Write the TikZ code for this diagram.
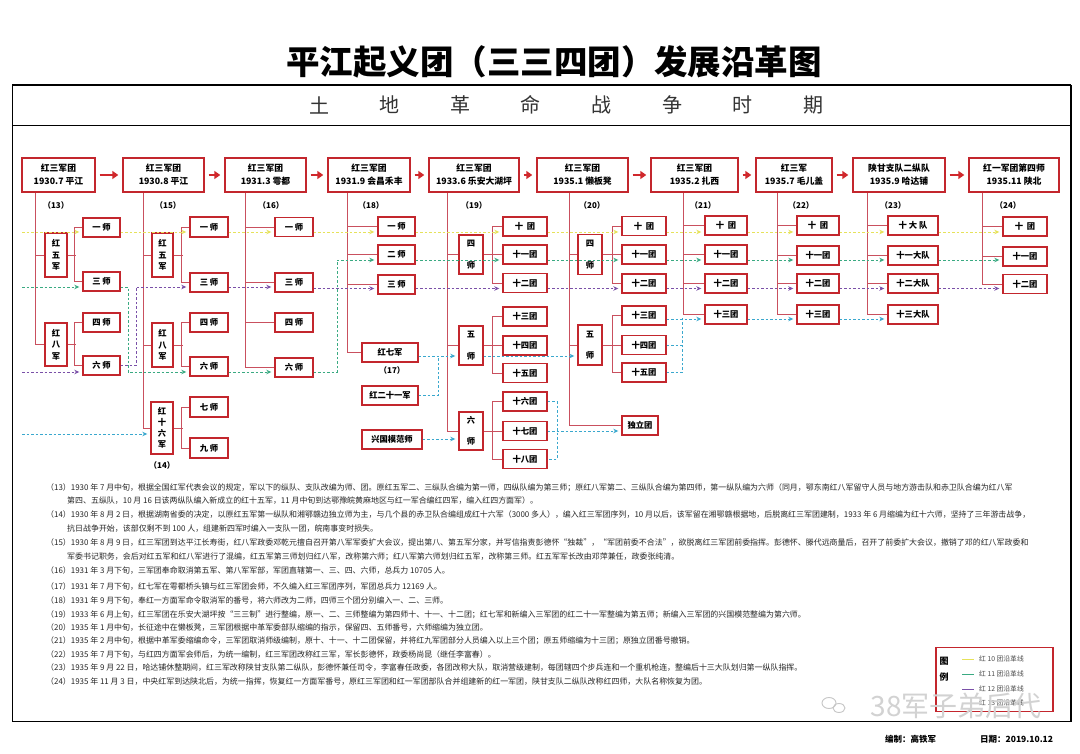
\documentclass[tikz,border=0pt]{standalone}
\usepackage{fontspec}
\setmainfont{Noto Sans CJK SC}
\usetikzlibrary{arrows.meta}
\definecolor{boxred}{HTML}{C3262D}
\definecolor{treered}{HTML}{C9505E}
\definecolor{arrred}{HTML}{D0282C}
\definecolor{lyel}{HTML}{E6E25A}
\definecolor{lgrn}{HTML}{3AAA82}
\definecolor{lpur}{HTML}{7A50A8}
\definecolor{lcyn}{HTML}{3AA8CE}
\newcommand\mkbox[6]{\node[bx,minimum width=#4pt,minimum height=#5pt] (#1) at (#2,#3) {#6};}
\begin{document}
\begin{tikzpicture}[x=1pt,y=-1pt,
 bx/.style={draw=boxred,line width=1.4pt,fill=white,inner sep=0pt,align=center,font=\bfseries\fontsize{8.3}{11.5}\selectfont},
 tb/.style={bx,font=\bfseries\fontsize{8.8}{13}\selectfont},
 tr/.style={draw=treered,line width=0.75pt},
 big/.style={draw=arrred,line width=2.6pt,-{Triangle[length=6pt,width=8pt]},shorten <=4pt,shorten >=4pt},
 dl/.style={line width=0.8pt,dash pattern=on 2.5pt off 2pt},
 ay/.style={dl,draw=lyel,-{Stealth[length=5pt,width=4.5pt]},shorten >=3pt},
 ag/.style={dl,draw=lgrn,-{Stealth[length=5pt,width=4.5pt]},shorten >=3pt},
 ap/.style={dl,draw=lpur,-{Stealth[length=5pt,width=4.5pt]},shorten >=3pt},
 ac/.style={dl,draw=lcyn,-{Stealth[length=5pt,width=4.5pt]},shorten >=3pt},
 lc/.style={dl,draw=lcyn},
 lab/.style={font=\bfseries\fontsize{8}{8}\selectfont,inner sep=0pt},
 note/.style={anchor=west,inner sep=0pt,font=\fontsize{7.95}{8}\selectfont,text=black!85},
 legt/.style={anchor=west,inner sep=0pt,font=\fontsize{6.8}{7}\selectfont,text=black!70},
]
\useasboundingbox (0,0) rectangle (1080,754);
\fill[white] (0,0) rectangle (1080,754);

% title and frame
\node[font=\bfseries\fontsize{33.5}{34}\selectfont,inner sep=0pt] (title) at (554,62) {平江起义团（三三四团）发展沿革图};
\draw[line width=0.9pt] (12,85) rectangle (1071,721);
\draw[line width=1.8pt] (12,85) -- (1071,85);
\draw[line width=1.8pt] (1071,85) -- (1071,721);
\draw[line width=0.8pt] (12,125) -- (1071,125);
\foreach \c [count=\i] in {土,地,革,命,战,争,时,期}
  \node[font=\fontsize{20}{20}\selectfont,text=black!80,inner sep=0pt] (hd\i) at ({319+(\i-1)*70.6},105) {\c};

% top boxes
\node[tb,minimum width=73pt,minimum height=34pt] (T1) at (58.5,175) {红三军团\\1930.7 平江};
\node[tb,minimum width=81pt,minimum height=34pt] (T2) at (163.5,175) {红三军团\\1930.8 平江};
\node[tb,minimum width=81pt,minimum height=34pt] (T3) at (265.5,175) {红三军团\\1931.3 雩都};
\node[tb,minimum width=82pt,minimum height=34pt] (T4) at (369,175) {红三军团\\1931.9 会昌禾丰};
\node[tb,minimum width=90pt,minimum height=34pt] (T5) at (474,175) {红三军团\\1933.6 乐安大湖坪};
\node[tb,minimum width=91pt,minimum height=34pt] (T6) at (582.5,175) {红三军团\\1935.1 懒板凳};
\node[tb,minimum width=87pt,minimum height=34pt] (T7) at (694.5,175) {红三军团\\1935.2 扎西};
\node[tb,minimum width=76pt,minimum height=34pt] (T8) at (794,175) {红三军\\1935.7 毛儿盖};
\node[tb,minimum width=92pt,minimum height=34pt] (T9) at (899,175) {陕甘支队二纵队\\1935.9 哈达铺};
\node[tb,minimum width=90pt,minimum height=34pt] (T10) at (1014,175) {红一军团第四师\\1935.11 陕北};
\foreach \a/\b in {T1/T2,T2/T3,T3/T4,T4/T5,T5/T6,T6/T7,T7/T8,T8/T9,T9/T10}
  \draw[big] (\a) -- (\b);

% labels
\node[lab] (L13) at (56,205) {（13）};
\node[lab] (L15) at (168,205) {（15）};
\node[lab] (L16) at (271,205) {（16）};
\node[lab] (L18) at (371,205) {（18）};
\node[lab] (L19) at (474,205) {（19）};
\node[lab] (L20) at (592,205) {（20）};
\node[lab] (L21) at (703,205) {（21）};
\node[lab] (L22) at (801,205) {（22）};
\node[lab] (L23) at (893,205) {（23）};
\node[lab] (L24) at (1008,205) {（24）};
\node[lab] (L14) at (162,465) {（14）};
\node[lab] (L17) at (392,370) {（17）};

% trunk x positions
\coordinate (k1) at (35,0);
\coordinate (k2) at (143,0);
\coordinate (k3) at (245,0);
\coordinate (k4) at (347,0);
\coordinate (k5) at (447,0);
\coordinate (k6) at (569,0);
\coordinate (k7) at (683,0);
\coordinate (k8) at (777,0);
\coordinate (k9) at (867,0);
\coordinate (k10) at (982,0);

% column 1
\mkbox{c1h5}{56}{255}{22}{44}{红\\五\\军}
\mkbox{c1s1}{101.5}{227.5}{37}{19}{一\ 师}
\mkbox{c1s3}{101.5}{281.5}{37}{19}{三\ 师}
\mkbox{c1h8}{56}{344.5}{22}{43}{红\\八\\军}
\mkbox{c1s4}{101.5}{322.5}{37}{19}{四\ 师}
\mkbox{c1s6}{101.5}{365.5}{37}{19}{六\ 师}
% column 2
\mkbox{c2h5}{162.5}{255}{21}{44}{红\\五\\军}
\mkbox{c2s1}{209}{227}{38}{20}{一\ 师}
\mkbox{c2s3}{209}{282.5}{38}{19}{三\ 师}
\mkbox{c2h8}{162.5}{345}{21}{44}{红\\八\\军}
\mkbox{c2s4}{209}{322.5}{38}{19}{四\ 师}
\mkbox{c2s6}{209}{366.5}{38}{19}{六\ 师}
\node[bx,minimum width=22pt,minimum height=52pt,font=\bfseries\fontsize{8.3}{11}\selectfont] (c2h16) at (162,428) {红\\十\\六\\军};
\mkbox{c2s7}{209}{407}{38}{20}{七\ 师}
\mkbox{c2s9}{209}{448}{38}{20}{九\ 师}
% column 3
\mkbox{c3s1}{294}{227}{38}{19}{一\ 师}
\mkbox{c3s3}{294}{282.5}{38}{19}{三\ 师}
\mkbox{c3s4}{294}{322.5}{38}{19}{四\ 师}
\mkbox{c3s6}{294}{367.5}{38}{19}{六\ 师}
% column 4
\mkbox{c4s1}{396.5}{226.5}{37}{19}{一\ 师}
\mkbox{c4s2}{396.5}{254.5}{37}{19}{二\ 师}
\mkbox{c4s3}{396.5}{284.5}{37}{19}{三\ 师}
\mkbox{c4h7}{390}{352.5}{56}{19}{红七军}
\mkbox{c4h21}{390}{395.5}{56}{19}{红二十一军}
\mkbox{c4xg}{392}{439.5}{60}{19}{兴国模范师}
% column 5
\mkbox{c5d4}{471}{254.5}{24}{39}{四\\[10pt]师}
\mkbox{c5t10}{525}{226.5}{44}{19}{十\ \ 团}
\mkbox{c5t11}{525}{254.5}{44}{19}{十一团}
\mkbox{c5t12}{525}{283}{44}{19}{十二团}
\mkbox{c5d5}{471}{345.5}{24}{39}{五\\[10pt]师}
\mkbox{c5t13}{525}{316.5}{44}{19}{十三团}
\mkbox{c5t14}{525}{345.5}{44}{19}{十四团}
\mkbox{c5t15}{525}{373}{44}{19}{十五团}
\mkbox{c5d6}{471}{431}{24}{38}{六\\[10pt]师}
\mkbox{c5t16}{525}{401.5}{44}{19}{十六团}
\mkbox{c5t17}{525}{431}{44}{19}{十七团}
\mkbox{c5t18}{525}{459}{44}{19}{十八团}
% column 6
\mkbox{c6d4}{590}{254.5}{24}{40}{四\\[10pt]师}
\mkbox{c6t10}{644}{226}{44}{19}{十\ \ 团}
\mkbox{c6t11}{644}{254.5}{44}{19}{十一团}
\mkbox{c6t12}{644}{283.5}{44}{19}{十二团}
\mkbox{c6d5}{590}{345}{24}{40}{五\\[10pt]师}
\mkbox{c6t13}{644}{315.5}{44}{19}{十三团}
\mkbox{c6t14}{644}{345}{44}{19}{十四团}
\mkbox{c6t15}{644}{372.5}{44}{19}{十五团}
\mkbox{c6ind}{640}{425.5}{36}{19}{独立团}
% column 7
\mkbox{c7t10}{726}{225.5}{42}{19}{十\ \ 团}
\mkbox{c7t11}{726}{254.5}{42}{19}{十一团}
\mkbox{c7t12}{726}{283.5}{42}{19}{十二团}
\mkbox{c7t13}{726}{314.5}{42}{19}{十三团}
% column 8
\mkbox{c8t10}{818}{225.5}{42}{19}{十\ \ 团}
\mkbox{c8t11}{818}{255.5}{42}{19}{十一团}
\mkbox{c8t12}{818}{283.5}{42}{19}{十二团}
\mkbox{c8t13}{818}{314.5}{42}{19}{十三团}
% column 9
\mkbox{c9t10}{913}{225.5}{50}{19}{十\ 大\ 队}
\mkbox{c9t11}{913}{255.5}{50}{19}{十一大队}
\mkbox{c9t12}{913}{283.5}{50}{19}{十二大队}
\mkbox{c9t13}{913}{314.5}{50}{19}{十三大队}
% column 10
\mkbox{c10t10}{1025}{226.5}{44}{19}{十\ \ 团}
\mkbox{c10t11}{1025}{256.5}{44}{19}{十一团}
\mkbox{c10t12}{1025}{284}{44}{19}{十二团}

% tree lines
% col1
\draw[tr] (T1.south -| k1) |- (c1h8.west);
\draw[tr] (c1h5.west -| k1) -- (c1h5.west);
\draw[tr] (c1h5.east) -- ++(8,0);
\draw[tr] (c1s1.west) -- ++(-8,0) |- (c1s3.west);
\draw[tr] (c1h8.east) -- ++(8,0);
\draw[tr] (c1s4.west) -- ++(-8,0) |- (c1s6.west);
% col2
\draw[tr] (T2.south -| k2) |- (c2h16.west);
\draw[tr] (c2h5.west -| k2) -- (c2h5.west);
\draw[tr] (c2h8.west -| k2) -- (c2h8.west);
\draw[tr] (c2h5.east) -- ++(9,0);
\draw[tr] (c2s1.west) -- ++(-8,0) |- (c2s3.west);
\draw[tr] (c2h8.east) -- ++(9,0);
\draw[tr] (c2s4.west) -- ++(-8,0) |- (c2s6.west);
\draw[tr] (c2h16.east) -- ++(9,0);
\draw[tr] (c2s7.west) -- ++(-8,0) |- (c2s9.west);
% col3
\draw[tr] (T3.south -| k3) |- (c3s6.west);
\foreach \n in {c3s1,c3s3,c3s4} \draw[tr] (\n.west -| k3) -- (\n.west);
% col4
\draw[tr] (T4.south -| k4) |- (c4h7.west);
\foreach \n in {c4s1,c4s2,c4s3} \draw[tr] (\n.west -| k4) -- (\n.west);
% col5
\draw[tr] (T5.south -| k5) |- (c5d6.west);
\draw[tr] (c5d4.west -| k5) -- (c5d4.west);
\draw[tr] (c5d5.west -| k5) -- (c5d5.west);
\draw[tr] (c5d4.east) -- (c5t11.west);
\draw[tr] (c5t10.west) -- ++(-10,0) |- (c5t12.west);
\draw[tr] (c5d5.east) -- (c5t14.west);
\draw[tr] (c5t13.west) -- ++(-10,0) |- (c5t15.west);
\draw[tr] (c5d6.east) -- (c5t17.west);
\draw[tr] (c5t16.west) -- ++(-10,0) |- (c5t18.west);
% col6
\draw[tr] (T6.south -| k6) |- (c6ind.west);
\draw[tr] (c6d4.west -| k6) -- (c6d4.west);
\draw[tr] (c6d5.west -| k6) -- (c6d5.west);
\draw[tr] (c6d4.east) -- (c6t11.west);
\draw[tr] (c6t10.west) -- ++(-9,0) |- (c6t12.west);
\draw[tr] (c6d5.east) -- (c6t14.west);
\draw[tr] (c6t13.west) -- ++(-9,0) |- (c6t15.west);
% col7-10
\draw[tr] (T7.south -| k7) |- (c7t13.west);
\foreach \n in {c7t10,c7t11,c7t12} \draw[tr] (\n.west -| k7) -- (\n.west);
\draw[tr] (T8.south -| k8) |- (c8t13.west);
\foreach \n in {c8t10,c8t11,c8t12} \draw[tr] (\n.west -| k8) -- (\n.west);
\draw[tr] (T9.south -| k9) |- (c9t13.west);
\foreach \n in {c9t10,c9t11,c9t12} \draw[tr] (\n.west -| k9) -- (\n.west);
\draw[tr] (T10.south -| k10) |- (c10t12.west);
\foreach \n in {c10t10,c10t11} \draw[tr] (\n.west -| k10) -- (\n.west);

% level coordinates
\coordinate (yY) at (0,232);
\coordinate (yA) at (0,287);
\coordinate (yB) at (0,372);
\coordinate (yG) at (0,260);
\coordinate (yP) at (0,288.5);
\coordinate (yC) at (0,356);
\coordinate (yD) at (0,319);
\coordinate (yF) at (0,439);
\coordinate (sY) at (22,232);
\coordinate (sG) at (22,287);
\coordinate (sP) at (22,372);
\coordinate (sC) at (22,434);
\coordinate (g1) at (128,372);
\coordinate (p1) at (136,287);
\coordinate (g2) at (337,260);
\coordinate (cj) at (438,356);
\coordinate (d1) at (557,459);
\coordinate (e1) at (682,318);

% yellow (10)
\draw[ay] (sY) -- (c1s1.west |- yY);
\foreach \a/\b in {c1s1/c2s1,c2s1/c3s1,c3s1/c4s1,c4s1/c5t10,c5t10/c6t10,c6t10/c7t10,c7t10/c8t10,c8t10/c9t10,c9t10/c10t10}
  \draw[ay] (\a.east |- yY) -- (\b.west |- yY);
% green (11)
\draw[ag] (sG) -- (c1s3.west |- yA);
\draw[ag] (c1s3.east |- yA) -| (g1) -- (c2s6.west |- g1);
\draw[ag] (c2s6.east |- yB) -- (c3s6.west |- yB);
\draw[ag] (c3s6.east |- yB) -| (g2) -- (c4s2.west |- g2);
\foreach \a/\b in {c4s2/c5t11,c5t11/c6t11,c6t11/c7t11,c7t11/c8t11,c8t11/c9t11,c9t11/c10t11}
  \draw[ag] (\a.east |- yG) -- (\b.west |- yG);
% purple (12)
\draw[ap] (sP) -- (c1s6.west |- yB);
\draw[ap] (c1s6.east) -| (p1) -- (c2s3.west |- p1);
\draw[ap] (c2s3.east |- yA) -- (c3s3.west |- yA);
\foreach \a/\b in {c3s3/c4s3,c4s3/c5t12,c5t12/c6t12,c6t12/c7t12,c7t12/c8t12,c8t12/c9t12,c9t12/c10t12}
  \draw[ap] (\a.east |- yP) -- (\b.west |- yP);
% cyan (13)
\draw[ac] (sC) -- (c2h16.west |- sC);
\draw[ac] (c4h7.east |- yC) -- (c5d5.west |- yC);
\draw[lc] (c4h21.east) -| (cj);
\draw[ac] (c4xg.east |- yF) -- (c5d6.west |- yF);
\draw[ac] (c5d5.east |- yC) -- (c6d5.west |- yC);
\draw[lc] (c5t16.east) -| (d1) -- (c5t18.east);
\draw[ac] (c5t17.east) -- (c6ind.west |- c5t17.east);
\draw[lc] (c6t15.east) -| (e1);
\draw[lc] (c6t14.east) -- (c6t14.east -| e1);
\draw[ac] (c6t13.east |- yD) -- (c7t13.west |- yD);
\draw[ac] (c7t13.east |- yD) -- (c8t13.west |- yD);
\draw[ac] (c8t13.east |- yD) -- (c9t13.west |- yD);

% notes
\node[note] (n13a) at (46,488) {（13）1930 年 7 月中旬，根据全国红军代表会议的规定，军以下的纵队、支队改编为师、团。原红五军二、三纵队合编为第一师，四纵队编为第三师；原红八军第二、三纵队合编为第四师，第一纵队编为六师（同月，鄂东南红八军留守人员与地方游击队和赤卫队合编为红八军};
\node[note] (n13b) at (67,501) {第四、五纵队，10 月 16 日该两纵队编入新成立的红十五军，11 月中旬到达鄂豫皖黄麻地区与红一军合编红四军，编入红四方面军）。};
\node[note] (n14a) at (46,515) {（14）1930 年 8 月 2 日，根据湖南省委的决定，以原红五军第一纵队和湘鄂赣边独立师为主，与几个县的赤卫队合编组成红十六军（3000 多人），编入红三军团序列，10 月以后，该军留在湘鄂赣根据地，后脱离红三军团建制，1933 年 6 月缩编为红十六师，坚持了三年游击战争，};
\node[note] (n14b) at (67,529) {抗日战争开始，该部仅剩不到 100 人，组建新四军时编入一支队一团，皖南事变时损失。};
\node[note] (n15a) at (46,543) {（15）1930 年 8 月 9 日，红三军团到达平江长寿街，红八军政委邓乾元擅自召开第八军军委扩大会议，提出第八、第五军分家，并写信指责彭德怀“独裁”，“军团前委不合法”，欲脱离红三军团前委指挥。彭德怀、滕代远商量后，召开了前委扩大会议，撤销了邓的红八军政委和};
\node[note] (n15b) at (67,557) {军委书记职务，会后对红五军和红八军进行了混编，红五军第三师划归红八军，改称第六师；红八军第六师划归红五军，改称第三师。红五军军长改由邓萍兼任，政委张纯清。};
\node[note] (n16) at (46,571) {（16）1931 年 3 月下旬，三军团奉命取消第五军、第八军军部，军团直辖第一、三、四、六师，总兵力 10705 人。};
\node[note] (n17) at (46,587) {（17）1931 年 7 月下旬，红七军在雩都桥头镇与红三军团会师，不久编入红三军团序列，军团总兵力 12169 人。};
\node[note] (n18) at (46,601) {（18）1931 年 9 月下旬，奉红一方面军命令取消军的番号，将六师改为二师，四师三个团分别编入一、二、三师。};
\node[note] (n19) at (46,615) {（19）1933 年 6 月上旬，红三军团在乐安大湖坪按“三三制”进行整编，原一、二、三师整编为第四师十、十一、十二团；红七军和新编入三军团的红二十一军整编为第五师；新编入三军团的兴国模范整编为第六师。};
\node[note] (n20) at (46,628) {（20）1935 年 1 月中旬，长征途中在懒板凳，三军团根据中革军委部队缩编的指示，保留四、五师番号，六师缩编为独立团。};
\node[note] (n21) at (46,641) {（21）1935 年 2 月中旬，根据中革军委缩编命令，三军团取消师级编制，原十、十一、十二团保留，并将红九军团部分人员编入以上三个团；原五师缩编为十三团；原独立团番号撤销。};
\node[note] (n22) at (46,655) {（22）1935 年 7 月下旬，与红四方面军会师后，为统一编制，红三军团改称红三军，军长彭德怀，政委杨尚昆（继任李富春）。};
\node[note] (n23) at (46,668) {（23）1935 年 9 月 22 日，哈达铺休整期间，红三军改称陕甘支队第二纵队，彭德怀兼任司令，李富春任政委，各团改称大队，取消营级建制，每团辖四个步兵连和一个重机枪连，整编后十三大队划归第一纵队指挥。};
\node[note] (n24) at (46,682) {（24）1935 年 11 月 3 日，中央红军到达陕北后，为统一指挥，恢复红一方面军番号，原红三军团和红一军团部队合并组建新的红一军团，陕甘支队二纵队改称红四师，大队名称恢复为团。};

% legend
\node[draw=boxred,line width=1.4pt,minimum width=117pt,minimum height=64pt,inner sep=0pt] (leg) at (994.5,679.5) {};
\node[font=\bfseries\fontsize{9}{9}\selectfont,inner sep=0pt] (lg1) at (944,661) {图};
\node[font=\bfseries\fontsize{9}{9}\selectfont,inner sep=0pt] (lg2) at (944,677) {例};
\coordinate (ly1) at (962,659);
\coordinate (ly2) at (962,674);
\coordinate (ly3) at (962,689);
\coordinate (ly4) at (962,703);
\draw[lyel,line width=0.9pt] (ly1) -- ++(12,0);
\draw[lgrn,line width=0.9pt] (ly2) -- ++(12,0);
\draw[lpur,line width=0.9pt] (ly3) -- ++(12,0);
\draw[lcyn,line width=0.9pt] (ly4) -- ++(12,0);
\node[legt] (lt1) at (979,659) {红 10 团沿革线};
\node[legt] (lt2) at (979,674) {红 11 团沿革线};
\node[legt] (lt3) at (979,689) {红 12 团沿革线};
\node[legt] (lt4) at (979,703) {红 13 团沿革线};

% watermark
\draw[gray!45,line width=0.9pt] (829,703) ellipse (7pt and 5.5pt);
\draw[gray!45,line width=0.9pt] (839,708) ellipse (6pt and 4.5pt);
\node[font=\fontsize{28}{28}\selectfont,text=gray!35,inner sep=0pt] (wm) at (956,706) {38军子弟后代};

% footer
\node[anchor=west,inner sep=0pt,font=\bfseries\fontsize{8.5}{9}\selectfont] (ed) at (885,739) {编制：高铁军};
\node[anchor=west,inner sep=0pt,font=\bfseries\fontsize{8.5}{9}\selectfont] (dt) at (980,739) {日期：2019.10.12};
\end{tikzpicture}
\end{document}
